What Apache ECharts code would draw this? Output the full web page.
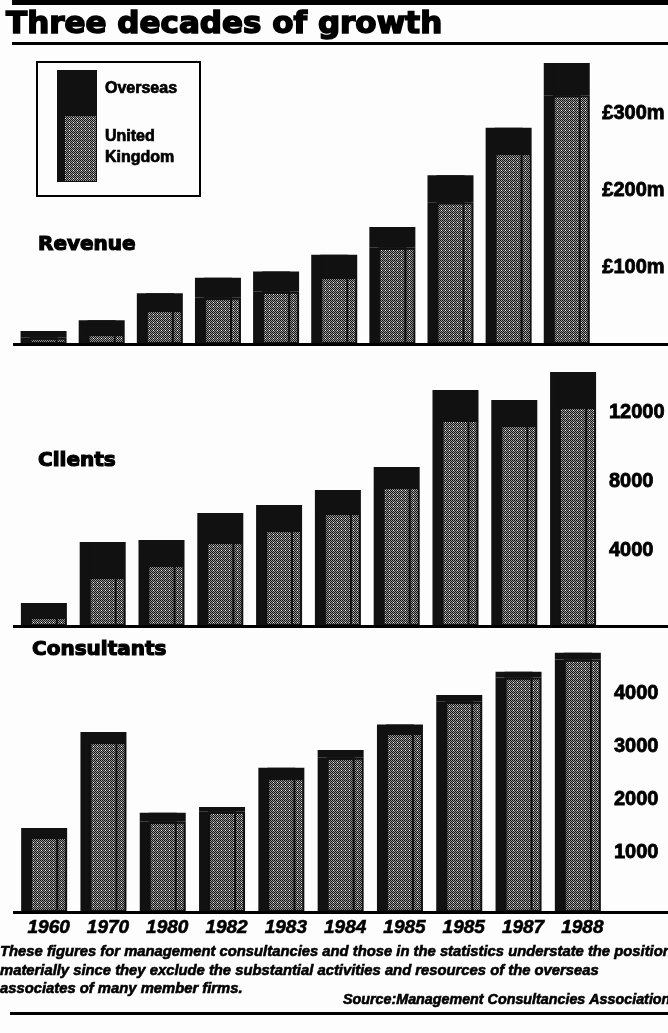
<!DOCTYPE html>
<html><head><meta charset="utf-8">
<script src="https://cdn.jsdelivr.net/npm/echarts@6/dist/echarts.min.js"></script>
<style>html,body{margin:0;padding:0;background:#fdfdfd}#c{width:668px;height:1033px}</style>
</head><body><div id="c"></div>
<script>
// ---- data ----
const categories = ['1960','1970','1980','1982','1983','1984','1985','1985','1987','1988'];
const revenueUK       = [8, 13, 44, 60, 68, 87, 125, 184, 248, 323];
const revenueOverseas = [9, 18, 22, 26, 26, 29, 27, 35, 33, 42];
const clientsUK       = [520, 2840, 3540, 4870, 5570, 6550, 8060, 11940, 11650, 12700];
const clientsOverseas = [810, 2030, 1450, 1680, 1440, 1330, 1160, 1740, 1450, 2020];
const consultUK       = [1420, 3220, 1710, 1900, 2540, 2920, 3390, 3980, 4440, 4780];
const consultOverseas = [170, 190, 170, 90, 190, 150, 160, 130, 110, 130];
const revenueTicks = ['£100m', '£200m', '£300m'];
const clientsTicks = ['4000', '8000', '12000'];
const consultTicks = ['1000', '2000', '3000', '4000'];

// ---- stipple pattern ----
function stipple() {
  const c = document.createElement('canvas'); c.width = 4; c.height = 4;
  const g = c.getContext('2d');
  g.fillStyle = '#959595'; g.fillRect(0, 0, 4, 4);
  g.fillStyle = '#161616';
  [[0,0],[2,0],[1,1],[3,1],[0,2],[2,2],[1,3],[3,3]].forEach(p => g.fillRect(p[0], p[1], 1, 1));
  g.fillStyle = '#f4f4f4'; g.fillRect(1, 2, 1, 1);
  return { image: c, repeat: 'repeat' };
}
const pat = stipple();

const W = 668, H = 1033;
const gridL = 19, gridR = 56;
const panels = [
  { top: 36,  base: 344, max: 400,   interval: 100,  uk: revenueUK, ov: revenueOverseas, ticks: revenueTicks, va: 'middle' },
  { top: 350, base: 626, max: 16000, interval: 4000, uk: clientsUK, ov: clientsOverseas, ticks: clientsTicks, va: 'bottom' },
  { top: 648, base: 912, max: 5000,  interval: 1000, uk: consultUK, ov: consultOverseas, ticks: consultTicks, va: 'bottom' }
];

const grids = [], xAxes = [], yAxes = [], series = [], graphics = [];
panels.forEach((p, i) => {
  grids.push({ left: gridL, right: gridR, top: p.top, bottom: H - p.base });
  xAxes.push({
    type: 'category', gridIndex: i, data: categories,
    axisLine: { show: false }, axisTick: { show: false },
    axisLabel: i === 2 ? { show: true, margin: 6, fontSize: 19, fontWeight: 'bold', fontStyle: 'italic', color: '#000', fontFamily: 'Liberation Sans', textBorderColor: '#000', textBorderWidth: 0.6 } : { show: false }
  });
  yAxes.push({
    type: 'value', gridIndex: i, position: 'right', min: 0, max: p.max, interval: p.interval,
    splitLine: { show: false }, axisLine: { show: false }, axisTick: { show: false },
    axisLabel: {
      showMinLabel: false, showMaxLabel: false, margin: 2,
      fontSize: 20, fontWeight: 'bold', color: '#000', fontFamily: 'Liberation Sans',
      textBorderColor: '#000', textBorderWidth: 0.8,
      verticalAlign: p.va, lineHeight: 14,
      formatter: v => { const k = Math.round(v / p.interval) - 1; return p.ticks[k] || ''; }
    }
  });
  const common = { type: 'bar', xAxisIndex: i, yAxisIndex: i, stack: 's' + i, barWidth: 37, silent: true };
  series.push(Object.assign({}, common, {
    name: 'United Kingdom', data: p.uk,
    itemStyle: { color: pat, borderColor: '#111', borderWidth: 2, shadowColor: '#111', shadowOffsetX: -9, shadowBlur: 0 }
  }));
  series.push(Object.assign({}, common, {
    name: 'Overseas', data: p.ov,
    itemStyle: { color: '#111', shadowColor: '#111', shadowOffsetX: -9, shadowBlur: 0 }
  }));
  graphics.push({ type: 'rect', shape: { x: 13, y: p.base - 1, width: W - 13, height: 3 }, style: { fill: '#000' }, z: 10 });
});

// rules
graphics.push({ type: 'rect', shape: { x: 12, y: 0, width: W - 12, height: 5 }, style: { fill: '#000' } });
graphics.push({ type: 'rect', shape: { x: 12, y: 42, width: W - 12, height: 3 }, style: { fill: '#000' } });
graphics.push({ type: 'rect', shape: { x: 10, y: 1012, width: W - 10, height: 3 }, style: { fill: '#000' } });

// legend box
graphics.push({ type: 'rect', shape: { x: 37, y: 62, width: 163, height: 134 }, style: { fill: 'none', stroke: '#000', lineWidth: 2 } });
graphics.push({ type: 'rect', shape: { x: 57, y: 70, width: 40, height: 112 }, style: { fill: '#111' } });
graphics.push({ type: 'rect', shape: { x: 65, y: 116, width: 31, height: 65 }, style: { fill: pat } });
const legFont = { fontSize: 16, fontWeight: 'bold', fontFamily: 'Liberation Sans', fill: '#000', stroke: '#000', lineWidth: 0.7, verticalAlign: 'middle' };
graphics.push({ type: 'text', style: Object.assign({ text: 'Overseas', x: 105, y: 89 }, legFont) });
graphics.push({ type: 'text', style: Object.assign({ text: 'United', x: 105, y: 137 }, legFont) });
graphics.push({ type: 'text', style: Object.assign({ text: 'Kingdom', x: 105, y: 158 }, legFont) });

// notes
const noteFont = { fontSize: 14.8, fontWeight: 'bold', fontStyle: 'italic', fontFamily: 'Liberation Sans', fill: '#000', stroke: '#000', lineWidth: 0.6, verticalAlign: 'middle' };
graphics.push({ type: 'text', style: Object.assign({ text: 'These figures for management consultancies and those in the statistics understate the position', x: 0, y: 952 }, noteFont) });
graphics.push({ type: 'text', style: Object.assign({ text: 'materially since they exclude the substantial activities and resources of the overseas', x: 0, y: 971 }, noteFont) });
graphics.push({ type: 'text', style: Object.assign({ text: 'associates of many member firms.', x: 0, y: 989 }, noteFont) });
graphics.push({ type: 'text', style: Object.assign({}, noteFont, { text: 'Source:Management Consultancies Association', x: 343, y: 1000, fontSize: 14.3 }) });

const panelTitle = (text, left, top) => ({ text, left, top, padding: 0, textStyle: { fontFamily: 'DejaVu Sans', fontWeight: 'bold', fontSize: 20, color: '#000', textBorderColor: '#000', textBorderWidth: 1.2 } });

const chart = echarts.init(document.getElementById('c'), null, { renderer: 'canvas' });
chart.setOption({
  backgroundColor: '#fdfdfd',
  animation: false,
  title: [
    { text: 'Three decades of growth', left: 6, top: 9, padding: 0, textStyle: { fontFamily: 'DejaVu Sans', fontWeight: 'bold', fontSize: 31, color: '#000', textBorderColor: '#000', textBorderWidth: 1.6 } },
    panelTitle('Revenue', 38, 235),
    panelTitle('Clients', 38, 451),
    panelTitle('Consultants', 32, 640)
  ],
  grid: grids, xAxis: xAxes, yAxis: yAxes, series: series,
  graphic: graphics
});
</script></body></html>
